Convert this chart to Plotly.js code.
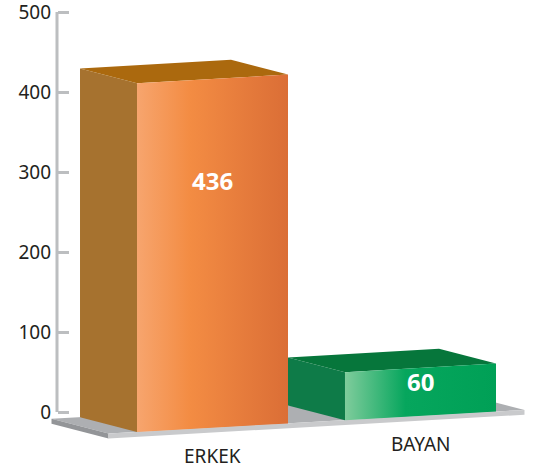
<!DOCTYPE html>
<html>
<head>
<meta charset="utf-8">
<script src="https://cdn.plot.ly/plotly-3.0.1.min.js"></script>
<style>html,body{margin:0;padding:0;background:#fff;}#chart{width:533px;height:473px;}</style>
</head>
<body>
<div id="chart"></div>
<script>
// ---- data ----
const categories = ['ERKEK', 'BAYAN'];
const values = [436, 60];
const yTickVals = [0, 100, 200, 300, 400, 500];
const yTickText = ['0', '100', '200', '300', '400', '500'];

// ---- style / pseudo-3D projection settings ----
const frontGrad = [
  [[0, '#f7a56e'], [0.35, '#f38c43'], [1, '#db6e36']],
  [[0, '#7fcc9c'], [0.4, '#06a65d'], [1, '#00a056']]
];
const sideColors = ['#a6722f', '#0e7b48'];
const topColors = ['#ab690e', '#06763b'];
const hw = 0.363;           // half bar width (x units)
const dX = -0.274, dY = 22.5; // depth offset
const K = 14.82, C = -19.62;  // floor tilt
function P(x, y, d) { const X = x + d * dX; return [X, y + d * dY + C + K * X]; }
function poly(pts, color, grad) {
  const xs = [], ys = [];
  pts.forEach(p => { const q = P(p[0], p[1], p[2]); xs.push(q[0]); ys.push(q[1]); });
  xs.push(xs[0]); ys.push(ys[0]);
  const t = { x: xs, y: ys, type: 'scatter', mode: 'lines', fill: 'toself',
    line: { width: 0, color: color || 'rgba(0,0,0,0)' }, hoverinfo: 'skip', showlegend: false };
  if (grad) { t.fillgradient = { type: 'horizontal', colorscale: grad }; }
  else { t.fillcolor = color; }
  return t;
}

const traces = [];
// floor tray
const fx0 = -0.5, fx1 = categories.length - 0.5, th = 6;
traces.push(poly([[fx0, 0, 0], [fx1, 0, 0], [fx1, 0, 1], [fx0, 0, 1]], '#adafb2'));
traces.push(poly([[fx0, 0, 1], [fx0, 0, 0], [fx0, -th, 0], [fx0, -th, 1]], '#939598'));
traces.push(poly([[fx0, 0, 0], [fx1, 0, 0], [fx1, -th, 0], [fx0, -th, 0]], '#c9cacc'));

const annotations = [];
categories.forEach((c, i) => {
  const v = values[i];
  traces.push(poly([[i - hw, 0, 0], [i - hw, v, 0], [i - hw, v, 1], [i - hw, 0, 1]], sideColors[i]));
  traces.push(poly([[i - hw, v, 0], [i + hw, v, 0], [i + hw, v, 1], [i - hw, v, 1]], topColors[i]));
  traces.push(poly([[i - hw, 0, 0], [i + hw, 0, 0], [i + hw, v, 0], [i - hw, v, 0]], null, frontGrad[i]));
  const lp = P(i, v * 0.71, 0);
  annotations.push({ x: lp[0], y: lp[1], xref: 'x', yref: 'y', text: String(v), showarrow: false,
    font: { family: 'Open Sans', size: 24, color: '#ffffff', weight: 'bold' } });
  const cp = P(i, -35, 0);
  annotations.push({ x: cp[0], y: cp[1], xref: 'x', yref: 'y', text: c, showarrow: false,
    font: { family: 'Noto Sans', size: 19, color: '#231f20' } });
});

const axPos = (57 - 45) / 488;
const layout = {
  width: 533, height: 473,
  margin: { l: 45, r: 0, t: 5, b: 5 },
  paper_bgcolor: '#ffffff', plot_bgcolor: '#ffffff',
  showlegend: false,
  xaxis: { range: [-0.8053, 1.5409], visible: false, fixedrange: true },
  yaxis: {
    range: [-70, 508.75], anchor: 'free', position: axPos, side: 'left',
    tickvals: yTickVals, ticktext: yTickText, ticklabeloverflow: 'allow',
    ticks: 'inside', ticklen: 11, tickwidth: 3, tickcolor: '#bcbec0',
    showline: false, showgrid: false, zeroline: false, ticklabelstandoff: 6,
    tickfont: { family: 'Noto Sans', size: 19, color: '#231f20' }, fixedrange: true
  },
  shapes: [{ type: 'line', xref: 'paper', yref: 'y', x0: axPos, x1: axPos, y0: 0, y1: 500,
    line: { color: '#bcbec0', width: 3 }, layer: 'below' }],
  annotations: annotations
};
Plotly.newPlot('chart', traces, layout, { displayModeBar: false, staticPlot: true });
</script>
</body>
</html>
